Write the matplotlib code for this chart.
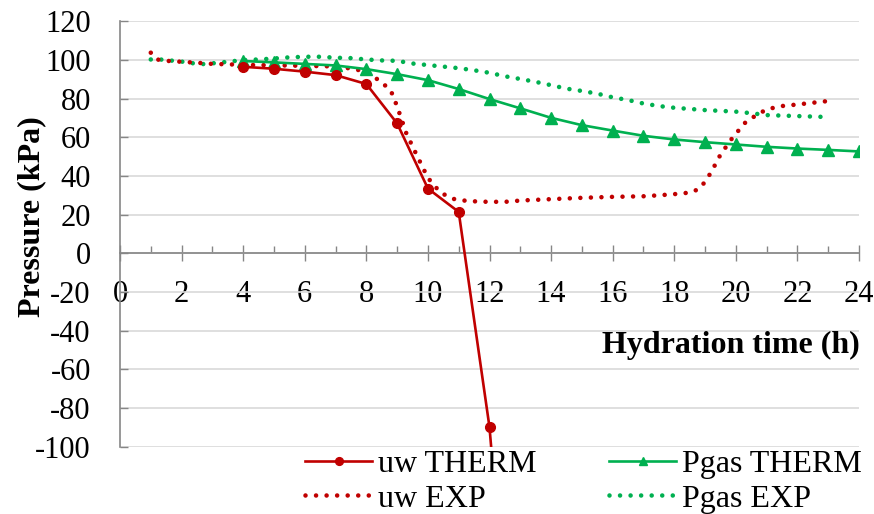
import matplotlib.pyplot as plt
from matplotlib.ticker import MultipleLocator

# uw THERM (model), hourly from 4 h; last point is off the bottom of the axis
uw_therm_t = [4, 5, 6, 7, 8, 9, 10, 11, 12, 13]
uw_therm = [96.5, 95.5, 94.0, 92.2, 87.6, 67.2, 33.5, 21.4, -90.0, -280.0]

# Pgas THERM (model), hourly from 4 h
pgas_therm_t = [4, 5, 6, 7, 8, 9, 10, 11, 12, 13, 14, 15, 16, 17, 18, 19, 20, 21, 22, 23, 24]
pgas_therm = [99.5, 98.8, 98.0, 97.2, 95.3, 92.7, 89.6, 85.0, 79.8, 75.0, 70.1,
              66.3, 63.5, 60.8, 58.9, 57.5, 56.3, 55.1, 54.2, 53.5, 52.7]

# uw EXP (measured)
uw_exp_t = [1, 1.2, 1.5, 2, 2.5, 3, 3.5, 4, 5, 6, 7, 7.5, 8, 8.5, 8.8, 9, 9.3, 9.6,
            10, 10.4, 10.8, 11.3, 12, 12.6, 13, 14, 15, 16, 17, 17.5, 18, 18.5, 18.8,
            19, 19.2, 19.5, 19.9, 20.3, 20.6, 21, 21.5, 22, 22.5, 23]
uw_exp = [103.8, 100.3, 99.6, 99.1, 98.6, 98.0, 97.8, 97.5, 97.3, 97.0, 96.7, 95.6,
          94.0, 88.5, 84.0, 76.0, 62.0, 52.0, 39.0, 31.5, 28.2, 27.0, 26.6, 26.7, 27.3,
          28.0, 28.7, 29.2, 29.5, 30.0, 30.6, 31.4, 33.2, 37.0, 42.0, 51.0, 60.0, 67.5,
          70.8, 74.5, 76.2, 77.0, 77.9, 78.8]

# Pgas EXP (measured)
pgas_exp_t = [1, 1.3, 2, 2.6, 3, 3.5, 4, 4.5, 5, 5.5, 6, 6.5, 7, 7.5, 8, 8.5, 9, 9.5,
              10, 10.5, 11, 11.5, 12, 12.5, 13, 13.5, 14, 14.5, 15, 15.5, 16, 16.5, 17,
              17.5, 18, 19, 20, 20.5, 21, 22, 23]
pgas_exp = [100.3, 100.3, 99.2, 97.8, 98.3, 99.1, 100.0, 100.3, 100.8, 101.4, 101.7,
            101.7, 101.2, 101.0, 100.3, 99.8, 99.6, 98.2, 97.4, 96.6, 95.8, 94.7, 93.4,
            91.6, 90.2, 88.7, 87.0, 85.2, 84.0, 82.6, 80.7, 79.3, 77.5, 76.2, 75.3,
            74.1, 73.3, 72.5, 71.5, 71.0, 70.5]

RED = "#c00000"
GREEN = "#00b050"
GRAY = "#868686"

plt.rcParams["font.family"] = ["Liberation Serif", "DejaVu Serif"]
plt.rcParams["axes.unicode_minus"] = False

fig = plt.figure(figsize=(8.74, 5.14), dpi=100)
ax = fig.add_axes([120 / 874, 1 - 446.5 / 514, 739 / 874, 425.1 / 514])

dot = (0, (0.001, 2.3))
ax.plot(pgas_exp_t, pgas_exp, color=GREEN, lw=3.3, linestyle=dot,
        dash_capstyle="round", label="Pgas EXP", zorder=3)
ax.plot(uw_exp_t, uw_exp, color=RED, lw=3.3, linestyle=dot,
        dash_capstyle="round", label="uw EXP", zorder=3)
ax.plot(pgas_therm_t, pgas_therm, color=GREEN, lw=1.9, marker="^", ms=8,
        label="Pgas THERM", zorder=4)
ax.plot(uw_therm_t, uw_therm, color=RED, lw=1.9, marker="o", ms=7,
        label="uw THERM", zorder=4)

ax.set_xlim(0, 24)
ax.set_ylim(-100, 120)
ax.xaxis.set_major_locator(MultipleLocator(2))
ax.xaxis.set_minor_locator(MultipleLocator(1))
ax.yaxis.set_major_locator(MultipleLocator(20))

ax.spines["top"].set_visible(False)
ax.spines["right"].set_visible(False)
ax.spines["bottom"].set_position(("data", 0))
for s in ("left", "bottom"):
    ax.spines[s].set_color(GRAY)
    ax.spines[s].set_linewidth(1.2)

ax.grid(axis="y", color="#d9d9d9", lw=1.2)
ax.set_axisbelow(True)

ax.tick_params(axis="x", which="major", direction="inout", length=12, width=1,
               color=GRAY, labelsize=22, pad=13)
ax.tick_params(axis="x", which="minor", direction="in", length=5, width=1, color=GRAY)
ax.tick_params(axis="y", direction="in", length=6, width=1, color=GRAY,
               labelsize=22, pad=21)

fig.text(32 / 874, 1 - 217 / 514, "Pressure (kPa)", rotation=90, fontsize=23,
         fontweight="bold", ha="center", va="center")
fig.text(860 / 874, 1 - 353 / 514, "Hydration time (h)", fontsize=23,
         fontweight="bold", ha="right", va="baseline")

h, l = ax.get_legend_handles_labels()
order = [3, 1, 2, 0]
fig.legend([h[i] for i in order], [l[i] for i in order], ncol=2,
           loc="upper left", bbox_to_anchor=(305 / 874, 1 - 450 / 514),
           frameon=False, fontsize=23, handlelength=2.1, handletextpad=0.2,
           columnspacing=2.25, labelspacing=0.15, borderpad=0, borderaxespad=0,
           markerscale=0.8)

fig.savefig("out.png", dpi=100)
